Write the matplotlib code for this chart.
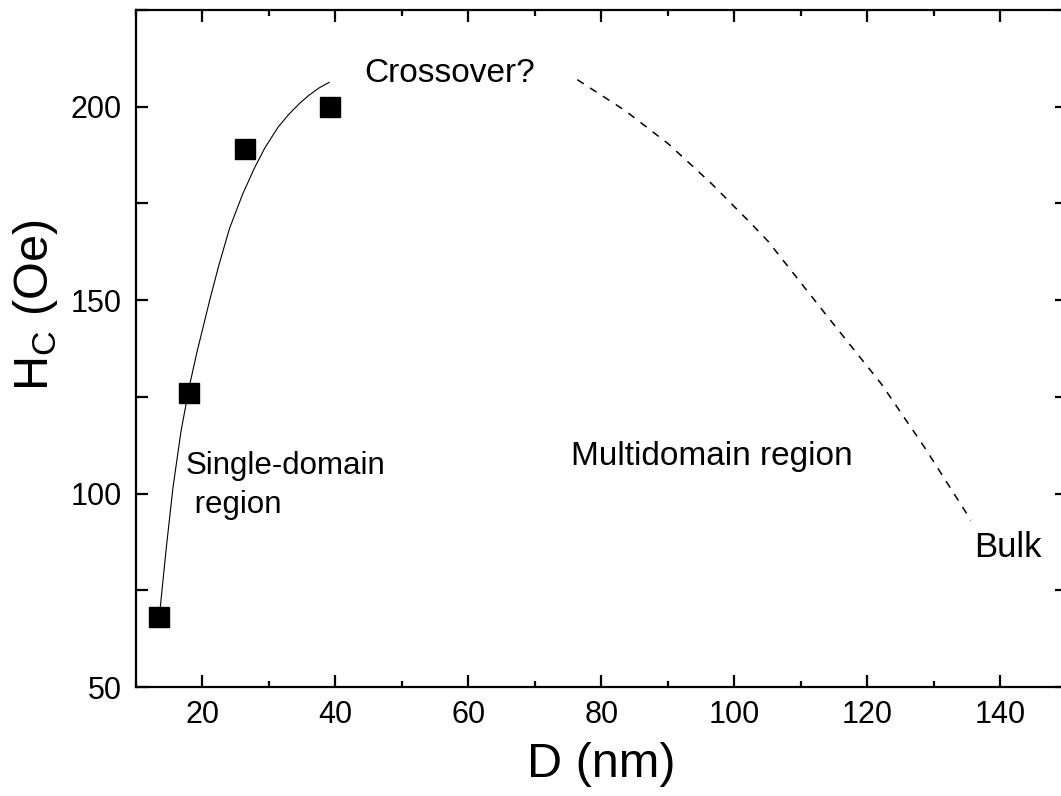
import matplotlib
matplotlib.use("Agg")
import matplotlib.pyplot as plt
from matplotlib.ticker import MultipleLocator

plt.rcParams['font.family'] = ['Liberation Sans', 'DejaVu Sans']
plt.rcParams['mathtext.fontset'] = 'custom'
plt.rcParams['mathtext.rm'] = 'Liberation Sans'

# measured data points
D_nm = [13.5, 18.0, 26.4, 39.2]
Hc_Oe = [68, 126, 189, 200]

# solid guide curve (single-domain region)
fit_D = [13.7, 14.6, 15.6, 16.8, 18.1, 19.2, 20.2, 21.2, 22.5, 24.1, 26.1,
         27.9, 29.4, 31.4, 33.0, 34.6, 36.0, 37.6, 39.1]
fit_H = [70.7, 86, 101.5, 116, 128, 136.5, 143.5, 150.5, 159, 168.5, 177.5,
         184.3, 189.3, 194.7, 198.0, 200.8, 202.9, 204.9, 206.3]

# dashed guide curve (multidomain region)
md_D = [76.4, 83.6, 90.1, 96.6, 102.6, 105.1, 114.1, 122.1, 128.6, 135.6]
md_H = [207, 199, 190.4, 180.1, 169.7, 165.2, 145.6, 128.4, 112.0, 93.1]

x_ticks = [20, 40, 60, 80, 100, 120, 140]
y_ticks = [50, 100, 150, 200]

fig = plt.figure(figsize=(10.61, 7.96), dpi=100)
ax = fig.add_axes([0.1279, 0.1369, 0.8775, 0.8505])

ax.plot(fit_D, fit_H, color='black', lw=0.8)
ax.plot(md_D, md_H, color='black', lw=1.1, dashes=(5.0, 5.0))
ax.plot(D_nm, Hc_Oe, linestyle='none', marker='s', markersize=14,
        markerfacecolor='black', markeredgecolor='black', mew=1)

ax.set_xlim(10, 150)
ax.set_ylim(50, 225)
ax.set_xticks(x_ticks)
ax.set_yticks(y_ticks)
ax.xaxis.set_minor_locator(MultipleLocator(10))
ax.yaxis.set_minor_locator(MultipleLocator(25))

for s in ax.spines.values():
    s.set_linewidth(1.6)

ax.tick_params(which='both', direction='in', top=True, right=True, width=1.6,
               labelsize=22, colors='black')
ax.tick_params(which='major', length=8.6, pad=9)
ax.tick_params(axis='x', which='minor', length=4.3)
ax.tick_params(axis='y', which='minor', length=8.6)
ax.tick_params(axis='y', which='major', pad=10)

ax.set_xlabel('D (nm)', fontsize=35, labelpad=9)
ax.set_ylabel(r'H$_\mathregular{C}$ (Oe)', fontsize=35)
ax.yaxis.set_label_coords(-0.081, 0.563)

ax.text(44.4, 206.3, 'Crossover?', fontsize=24, va='baseline', ha='left')
ax.text(17.5, 94.9, 'Single-domain\n region', fontsize=22.5, va='baseline', ha='left',
        linespacing=1.4)
ax.text(75.4, 107.3, 'Multidomain region', fontsize=24, va='baseline', ha='left')
ax.text(136.1, 83.6, 'Bulk', fontsize=25, va='baseline', ha='left')

fig.savefig('out.png', dpi=100)
